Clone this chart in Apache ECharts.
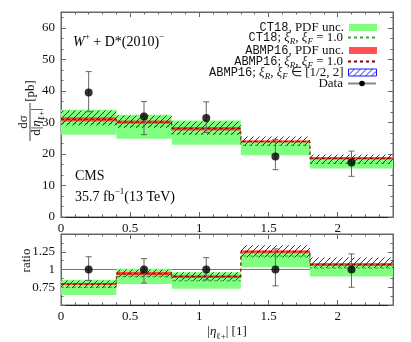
<!DOCTYPE html>
<html><head><meta charset="utf-8">
<script src="https://cdn.jsdelivr.net/npm/echarts@6/dist/echarts.min.js"></script>
<style>html,body{margin:0;padding:0;background:#fff}#c{width:411px;height:342px}</style>
</head><body><div id="c"></div>
<script>
// ---------------- data ----------------
const binEdges = [0, 0.4, 0.8, 1.3, 1.8, 2.4];
const ct18Lo = [26.1, 24.8, 22.9, 19.6, 15.4];
const ct18Hi = [34.0, 32.4, 30.6, 24.1, 18.8];
const ct18Central = [29.6, 28.8, 26.4, 22.7, 17.0];
const abmpLo = [30.3, 29.6, 27.4, 23.6, 18.2];
const abmpHi = [31.6, 30.6, 28.5, 24.3, 19.0];
const abmpCentral = [31.0, 30.1, 28.0, 23.9, 18.6];
const abmpScaleLo = [29.0, 28.2, 26.1, 22.7, 16.9];
const abmpScaleHi = [33.8, 32.2, 30.3, 25.5, 19.8];
const dataX = [0.2, 0.6, 1.05, 1.55, 2.1];
const dataY = [39.5, 31.9, 31.4, 19.2, 17.3];
const dataErrUp = [6.6, 4.7, 5.1, 5.4, 3.6];
const dataErrDown = [6.1, 5.8, 4.6, 4.2, 4.4];
// ratio panel
const rCt18Lo = [0.64, 0.795, 0.73, 1.03, 0.90];
const rCt18Hi = [0.855, 1.01, 0.96, 1.25, 1.08];
const rCt18Central = [0.75, 0.90, 0.84, 1.19, 1.02];
const rAbmpLo = [0.78, 0.92, 0.88, 1.23, 1.05];
const rAbmpHi = [0.81, 0.965, 0.92, 1.27, 1.09];
const rAbmpCentral = [0.795, 0.94, 0.90, 1.25, 1.07];
const rScaleLo = [0.74, 0.89, 0.84, 1.17, 1.02];
const rScaleHi = [0.846, 1.0, 0.96, 1.34, 1.17];
const rData = [1, 1, 1, 1, 1];
const rErrUp = [0.18, 0.154, 0.167, 0.29, 0.22];
const rErrDown = [0.154, 0.19, 0.145, 0.23, 0.25];
const ratioRef = [1, 1];

// ---------------- styles ----------------
const SERIF = 'Liberation Serif';
const MONO = 'Liberation Mono';
const GREEN = '#80ff80';
const RED = 'rgba(255,40,40,0.8)';
const GREEN_DASH = '#35a835';
const RED_DASH = '#8b0000';
const AX = '#666';

const pc = document.createElement('canvas'); pc.width = 6; pc.height = 6;
const pctx = pc.getContext('2d');
pctx.strokeStyle = '#1a1aff'; pctx.lineWidth = 1;
pctx.beginPath();
pctx.moveTo(0, 6); pctx.lineTo(6, 0);
pctx.moveTo(-1, 1); pctx.lineTo(1, -1);
pctx.moveTo(5, 7); pctx.lineTo(7, 5);
pctx.stroke();
const hatch = {image: pc, repeat: 'repeat'};

function band(xi, lo, hi, style, z) {
  return {
    type: 'custom', xAxisIndex: xi, yAxisIndex: xi, z: z, silent: true,
    data: lo.map((l, i) => [binEdges[i], binEdges[i + 1], l, hi[i]]),
    encode: {x: [0, 1], y: [2, 3]},
    renderItem(params, api) {
      const p0 = api.coord([api.value(0), api.value(3)]);
      const p1 = api.coord([api.value(1), api.value(2)]);
      return {type: 'rect', shape: {x: p0[0], y: p0[1], width: p1[0] - p0[0], height: p1[1] - p0[1]}, style: style};
    }
  };
}
function stepLine(xi, central, color, z) {
  const d = binEdges.map((e, i) => [e, central[Math.min(i, central.length - 1)]]);
  return {type: 'line', xAxisIndex: xi, yAxisIndex: xi, z: z, silent: true, step: 'end', data: d,
    symbol: 'none', lineStyle: {color: color, width: 1, type: [3, 3]}};
}
function errBars(xi, y, up, down) {
  return {
    type: 'custom', xAxisIndex: xi, yAxisIndex: xi, z: 8, silent: true,
    data: dataX.map((x, i) => [x, y[i] - down[i], y[i] + up[i]]),
    encode: {x: 0, y: [1, 2]},
    renderItem(params, api) {
      const a = api.coord([api.value(0), api.value(2)]);
      const b = api.coord([api.value(0), api.value(1)]);
      const st = {stroke: '#666', lineWidth: 1};
      const w = 3;
      return {type: 'group', children: [
        {type: 'line', shape: {x1: a[0], y1: a[1], x2: b[0], y2: b[1]}, style: st},
        {type: 'line', shape: {x1: a[0] - w, y1: a[1], x2: a[0] + w, y2: a[1]}, style: st},
        {type: 'line', shape: {x1: b[0] - w, y1: b[1], x2: b[0] + w, y2: b[1]}, style: st}
      ]};
    }
  };
}
function points(xi, y) {
  return {type: 'scatter', xAxisIndex: xi, yAxisIndex: xi, z: 9, silent: true,
    data: dataX.map((x, i) => [x, y[i]]), symbol: 'circle', symbolSize: 8,
    itemStyle: {color: '#000'}};
}

const tickBase = {inside: true, length: 5, lineStyle: {color: AX}};
const minorBase = {show: true, length: 2.5, lineStyle: {color: AX}};
function xAx(gi, pos, showLabel) {
  return {type: 'value', gridIndex: gi, position: pos, min: 0, max: 2.4, interval: 0.5,
    axisLine: {show: true, onZero: false, lineStyle: {color: pos === 'bottom' ? '#222' : AX}},
    axisTick: tickBase, minorTick: Object.assign({splitNumber: 5}, minorBase),
    splitLine: {show: false},
    axisLabel: {show: showLabel, showMaxLabel: false, fontFamily: SERIF, fontSize: 13, color: '#111', margin: 5}};
}
function yAx(gi, pos, min, max, interval, split, showLabel, hideMin, extra) {
  return Object.assign({type: 'value', gridIndex: gi, position: pos, min: min, max: max, interval: interval,
    axisLine: {show: true, onZero: false, lineStyle: {color: AX}},
    axisTick: tickBase, minorTick: Object.assign({splitNumber: split}, minorBase),
    splitLine: {show: false},
    axisLabel: {show: showLabel, showMaxLabel: false, showMinLabel: !hideMin, fontFamily: SERIF, fontSize: 13, color: '#111', margin: 6}}, extra || {});
}

const richBase = {
  rm: {fontFamily: SERIF, fontSize: 13, color: '#111', lineHeight: 14},
  tt: {fontFamily: MONO, fontSize: 12, color: '#111', lineHeight: 14},
  it: {fontFamily: SERIF, fontSize: 13, fontStyle: 'italic', color: '#111', lineHeight: 14},
  sub: {fontFamily: SERIF, fontSize: 9, fontStyle: 'italic', color: '#111', lineHeight: 14, verticalAlign: 'bottom', padding: [0, 0, -2, 0]},
  subr: {fontFamily: SERIF, fontSize: 9, color: '#111', lineHeight: 14, verticalAlign: 'bottom', padding: [0, 0, -2, 0]},
  sup: {fontFamily: SERIF, fontSize: 9, color: '#111', lineHeight: 14, verticalAlign: 'top', padding: [-3, 0, 0, 0]}
};

const L1 = 'CT18, PDF unc.';
const L2 = 'CT18; xiR, xiF = 1.0';
const L3 = 'ABMP16, PDF unc.';
const L4 = 'ABMP16; xiR, xiF = 1.0';
const L5 = 'ABMP16; xiR, xiF in [1/2, 2]';
const L6 = 'Data';
const legendText = {};
legendText[L1] = '{tt|CT18}{rm|, PDF unc.}';
legendText[L2] = '{tt|CT18}{rm|; }{it|ξ}{sub|R}{rm|, }{it|ξ}{sub|F}{rm| = 1.0}';
legendText[L3] = '{tt|ABMP16}{rm|, PDF unc.}';
legendText[L4] = '{tt|ABMP16}{rm|; }{it|ξ}{sub|R}{rm|, }{it|ξ}{sub|F}{rm| = 1.0}';
legendText[L5] = '{tt|ABMP16}{rm|; }{it|ξ}{sub|R}{rm|, }{it|ξ}{sub|F}{rm| ∈ [1/2, 2]}';
legendText[L6] = '{rm|Data}';

const legendRows = [
  {name: L1, top: 21, icon: 'rect'},
  {name: L2, top: 31, hideSym: true},
  {name: L3, top: 44, icon: 'rect'},
  {name: L4, top: 55, hideSym: true},
  {name: L5, top: 66, icon: 'rect', itemStyle: {color: hatch, borderColor: '#1a1aff', borderWidth: 1}},
  {name: L6, top: 77}
];

const option = {
  animation: false,
  backgroundColor: '#fff',
  grid: [
    {left: 61, right: 18, top: 12, height: 205, show: true, borderColor: AX, borderWidth: 1},
    {left: 61, right: 18, top: 234, height: 78, show: true, borderColor: AX, borderWidth: 1}
  ],
  xAxis: [
    xAx(0, 'bottom', true),
    Object.assign(xAx(1, 'bottom', true), {
      name: '{rm||}{it|η}{subr|ℓ+}{rm|| [1]}', nameLocation: 'middle', nameGap: 20, nameMoveOverlap: false,
      nameTextStyle: {rich: richBase, verticalAlign: 'top'}}),
    xAx(0, 'top', false),
    xAx(1, 'top', false)
  ],
  yAxis: [
    yAx(0, 'left', 0, 65, 10, 3, true, false),
    yAx(1, 'left', 0.5, 1.5, 0.25, 2, true, true, {name: 'ratio', nameLocation: 'middle', nameGap: 28, nameMoveOverlap: false,
      nameTextStyle: {fontFamily: SERIF, fontSize: 13, color: '#111', padding: [0, 0, 0, 18]}}),
    yAx(0, 'right', 0, 65, 10, 3, false, false),
    yAx(1, 'right', 0.5, 1.5, 0.25, 2, false, true)
  ],
  legend: legendRows.map(r => ({
    data: [{name: r.name, icon: r.icon, itemStyle: r.hideSym ? {opacity: 0} : r.itemStyle}],
    right: 34, top: r.top, orient: 'vertical', align: 'right', padding: 0,
    itemWidth: 28, itemHeight: 7, selectedMode: false,
    formatter: n => legendText[n],
    textStyle: {rich: richBase}
  })),
  graphic: [
    {type: 'text', left: 73, top: 32, style: {rich: Object.assign({}, richBase, {
      it: Object.assign({}, richBase.it, {fontSize: 14}), rm: Object.assign({}, richBase.rm, {fontSize: 14})}),
      text: '{it|W}{sup|+}{rm| + D*(2010)}{sup|−}'}},
    {type: 'text', left: 75, top: 169, style: {text: 'CMS', font: '14px "Liberation Serif"', fill: '#111'}},
    {type: 'text', left: 75, top: 187, style: {rich: Object.assign({}, richBase, {
      rm: Object.assign({}, richBase.rm, {fontSize: 14})}),
      text: '{rm|35.7 fb}{sup|−1}{rm|(13 TeV)}'}},
    {type: 'group', x: 30, y: 114, rotation: Math.PI / 2, children: [
      {type: 'text', x: -8, y: -6, style: {text: 'dσ', font: '13px "Liberation Serif"', fill: '#111', align: 'center', verticalAlign: 'middle'}},
      {type: 'line', shape: {x1: -27, y1: 0, x2: 11, y2: 0}, style: {stroke: '#111', lineWidth: 0.8}},
      {type: 'text', x: -8, y: 7, style: {align: 'center', verticalAlign: 'middle', rich: richBase,
        text: '{rm|d|}{it|η}{subr|ℓ+}{rm||}'}},
      {type: 'text', x: 23, y: 1, style: {text: '[pb]', font: '13px "Liberation Serif"', fill: '#111', align: 'center', verticalAlign: 'middle'}}
    ]}
  ],
  series: [
    // legend-only series
    {name: L1, type: 'bar', data: [], itemStyle: {color: GREEN}},
    {name: L2, type: 'line', data: [], symbol: 'none', lineStyle: {color: GREEN_DASH, width: 1.5, type: [3, 3]}, itemStyle: {color: GREEN_DASH}},
    {name: L3, type: 'bar', data: [], itemStyle: {color: RED}},
    {name: L4, type: 'line', data: [], symbol: 'none', lineStyle: {color: RED_DASH, width: 1.5, type: [3, 3]}, itemStyle: {color: RED_DASH}},
    {name: L5, type: 'bar', data: [], itemStyle: {color: hatch, borderColor: '#1a1aff', borderWidth: 1}},
    {name: L6, type: 'line', data: [], symbol: 'circle', symbolSize: 8, lineStyle: {color: '#888', width: 1}, itemStyle: {color: '#000'}},
    // top panel
    band(0, ct18Lo, ct18Hi, {fill: GREEN}, 2),
    band(0, abmpLo, abmpHi, {fill: RED}, 3),
    stepLine(0, ct18Central, GREEN_DASH, 4),
    stepLine(0, abmpCentral, RED_DASH, 4),
    band(0, abmpScaleLo, abmpScaleHi, {fill: hatch}, 5),
    errBars(0, dataY, dataErrUp, dataErrDown),
    points(0, dataY),
    // ratio panel
    {type: 'line', xAxisIndex: 1, yAxisIndex: 1, z: 1, silent: true, symbol: 'none',
      data: [[0, ratioRef[0]], [2.4, ratioRef[1]]], lineStyle: {color: '#777', width: 1}},
    band(1, rCt18Lo, rCt18Hi, {fill: GREEN}, 2),
    band(1, rAbmpLo, rAbmpHi, {fill: RED}, 3),
    stepLine(1, rCt18Central, GREEN_DASH, 4),
    stepLine(1, rAbmpCentral, RED_DASH, 4),
    band(1, rScaleLo, rScaleHi, {fill: hatch}, 5),
    errBars(1, rData, rErrUp, rErrDown),
    points(1, rData)
  ]
};
const chart = echarts.init(document.getElementById('c'), null, {renderer: 'canvas'});
chart.setOption(option);
</script></body></html>
